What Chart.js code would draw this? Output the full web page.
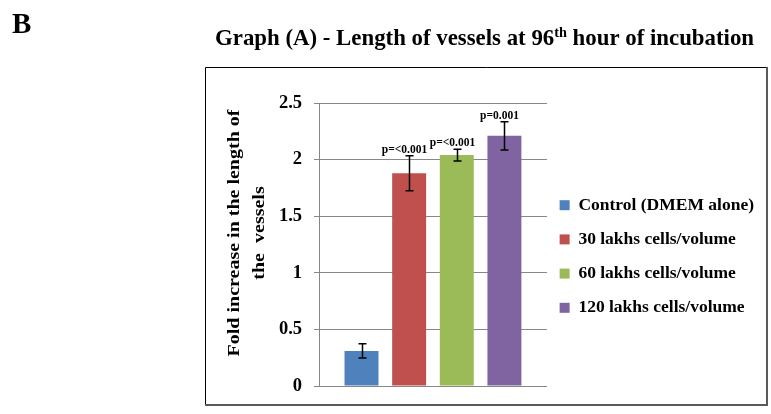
<!DOCTYPE html>
<html>
<head>
<meta charset="utf-8">
<script src="https://cdn.jsdelivr.net/npm/chart.js@4.4.1/dist/chart.umd.min.js"></script>
<style>
  html, body { margin: 0; padding: 0; background: #fff; }
  #wrap { width: 771px; height: 414px; }
</style>
</head>
<body>
<div id="wrap"><canvas id="c" width="771" height="414"></canvas></div>
<script>
// ---- data ----
const seriesNames = ["Control (DMEM alone)", "30 lakhs cells/volume", "60 lakhs cells/volume", "120 lakhs cells/volume"];
const foldValues = [0.31, 1.88, 2.04, 2.21];
const errorValues = [0.063, 0.155, 0.052, 0.125];
const pLabels = ["", "p=<0.001", "p=<0.001", "p=0.001"];
const seriesColors = ["#4F81BD", "#C0504D", "#9BBB59", "#8064A2"];
const yTicks = [0, 0.5, 1, 1.5, 2, 2.5];

const SERIF = '"Liberation Serif", "Times New Roman", serif';

const datasets = seriesNames.map((name, i) => ({
  label: name,
  data: [foldValues[i]],
  backgroundColor: seriesColors[i],
  borderWidth: 0,
  categoryPercentage: 0.836,
  barPercentage: 0.713
}));

const decorPlugin = {
  id: 'decor',
  afterLayout(chart) {
    // nudge the legend a little to the left (closer to the plot)
    if (chart.legend) { chart.legend.left -= 4; chart.legend.right -= 4; }
  },
  beforeDraw(chart) {
    const ctx = chart.ctx;
    ctx.save();
    ctx.fillStyle = '#fff';
    ctx.fillRect(0, 0, chart.width, chart.height);
    // frame
    ctx.strokeStyle = '#000';
    ctx.lineWidth = 1;
    ctx.beginPath();
    ctx.moveTo(205.5, 404); ctx.lineTo(205.5, 67.5); ctx.lineTo(767, 67.5);
    ctx.stroke();
    ctx.strokeStyle = '#5a5a5a';
    ctx.lineWidth = 2;
    ctx.beginPath();
    ctx.moveTo(767, 67); ctx.lineTo(767, 405); ctx.lineTo(205, 405);
    ctx.stroke();
    ctx.restore();
  },
  afterDraw(chart) {
    const ctx = chart.ctx;
    ctx.save();
    ctx.fillStyle = '#000';
    ctx.textAlign = 'left';
    ctx.textBaseline = 'alphabetic';
    // panel letter
    ctx.font = 'bold 29px ' + SERIF;
    ctx.fillText('B', 12, 33);
    // main title with superscript
    const p1 = 'Graph (A) - Length of vessels at 96';
    const sup = 'th';
    const p3 = ' hour of incubation';
    ctx.font = 'bold 24px ' + SERIF;
    const w1 = ctx.measureText(p1).width;
    const w3 = ctx.measureText(p3).width;
    ctx.font = 'bold 15px ' + SERIF;
    const ws = ctx.measureText(sup).width;
    const total = w1 + ws + w3;
    const sx = 539 / total;
    ctx.translate(215, 45);
    ctx.scale(sx, 1);
    ctx.font = 'bold 24px ' + SERIF;
    ctx.fillText(p1, 0, 0);
    ctx.font = 'bold 15px ' + SERIF;
    ctx.fillText(sup, w1, -8);
    ctx.font = 'bold 24px ' + SERIF;
    ctx.fillText(p3, w1 + ws, 0);
    ctx.restore();

    // y-axis title (two lines)
    ctx.save();
    ctx.fillStyle = '#000';
    ctx.font = 'bold 20px ' + SERIF;
    ctx.textAlign = 'center';
    ctx.textBaseline = 'middle';
    ctx.translate(235, 233);
    ctx.rotate(-Math.PI / 2);
    ctx.scale(1, 0.87);
    ctx.fillText('Fold increase in the length of', 0, 0);
    ctx.fillText('the  vessels', 0, 25 / 0.87);
    ctx.restore();
  },
  afterDatasetsDraw(chart) {
    const ctx = chart.ctx;
    const y = chart.scales.y;
    ctx.save();
    ctx.strokeStyle = '#000';
    ctx.lineWidth = 1.5;
    chart.data.datasets.forEach((ds, i) => {
      const meta = chart.getDatasetMeta(i);
      const bar = meta.data[0];
      const x = Math.round(bar.x) + 0.5;
      const v = foldValues[i], e = errorValues[i];
      const yt = y.getPixelForValue(v + e);
      const yb = y.getPixelForValue(v - e);
      ctx.beginPath();
      ctx.moveTo(x, yt); ctx.lineTo(x, yb);
      ctx.moveTo(x - 4, yt); ctx.lineTo(x + 4, yt);
      ctx.moveTo(x - 4, yb); ctx.lineTo(x + 4, yb);
      ctx.stroke();
      if (pLabels[i]) {
        ctx.fillStyle = '#000';
        ctx.font = 'bold 11.5px ' + SERIF;
        ctx.textAlign = 'center';
        ctx.textBaseline = 'alphabetic';
        ctx.fillText(pLabels[i], x - 5, yt - 3);
      }
    });
    ctx.restore();
  }
};

new Chart(document.getElementById('c'), {
  type: 'bar',
  data: { labels: [''], datasets },
  options: {
    responsive: false,
    devicePixelRatio: 1,
    animation: false,
    layout: { padding: { top: 103, left: 270, bottom: 28, right: 3 } },
    plugins: {
      title: { display: false },
      tooltip: { enabled: false },
      legend: {
        position: 'right',
        align: 'center',
        maxWidth: 224,
        title: { display: true, text: '', font: { size: 10 }, padding: 6 },
        labels: {
          boxWidth: 10,
          boxHeight: 10,
          padding: 16.7,
          color: '#000',
          font: { family: SERIF, size: 17.5, weight: 'bold' }
        }
      }
    },
    scales: {
      x: {
        grid: { display: false, drawTicks: false },
        ticks: { display: false },
        border: { display: true, color: '#878787', width: 1 }
      },
      y: {
        min: 0,
        max: 2.5,
        afterBuildTicks(scale) { scale.ticks = yTicks.map(v => ({ value: v })); },
        afterFit(scale) { scale.width = 49; },
        ticks: {
          padding: 12,
          color: '#000',
          font: { family: SERIF, size: 18.5, weight: 'bold' },
          callback: (v) => String(v)
        },
        grid: { color: '#878787', lineWidth: 1, tickLength: 5, drawTicks: true },
        border: { display: true, color: '#878787', width: 1 }
      }
    }
  },
  plugins: [decorPlugin]
});
</script>
</body>
</html>
